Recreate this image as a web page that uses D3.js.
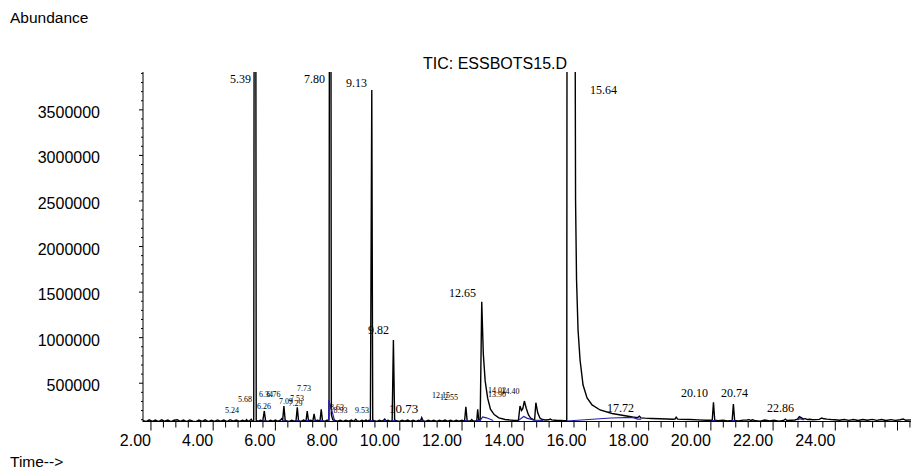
<!DOCTYPE html>
<html><head><meta charset="utf-8">
<script src="https://cdn.jsdelivr.net/npm/d3@7"></script>
<style>html,body{margin:0;padding:0;background:#fff;} svg{display:block;}</style>
</head><body><svg id="c" width="911" height="471"></svg>
<script>
// ---------- data ----------
const chartTitle = "TIC: ESSBOTS15.D";
const yAxisTitle = "Abundance";
const xAxisTitle = "Time-->";
const xTickLabels = ["2.00","4.00","6.00","8.00","10.00","12.00","14.00","16.00","18.00","20.00","22.00","24.00"];
const yTickLabels = ["500000","1000000","1500000","2000000","2500000","3000000","3500000"];

const timeMin = [
1.76,1.86,1.96,2.06,2.16,2.26,2.36,2.46,2.56,2.66,2.76,2.86,2.96,3.06,3.16,3.26,3.36,3.46,3.56,3.66,3.76,3.86,3.96,4.06,4.16,4.26,4.36,4.46,4.56,4.66,4.76,4.86,4.96,
5.05,5.09,5.13,5.20,5.24,5.28,5.32,5.345,5.375,5.40,5.46,5.54,5.61,5.66,5.70,5.78,5.86,5.94,6.02,6.10,6.18,6.22,6.25,6.29,6.33,6.38,6.46,6.54,6.62,6.68,6.72,6.76,6.84,6.92,
7.00,7.04,7.08,7.15,7.22,7.26,7.30,7.37,7.45,7.49,7.53,7.60,7.67,7.74,7.765,7.79,7.815,7.86,7.93,8.01,8.10,8.19,8.28,8.37,8.46,8.54,8.60,8.64,8.72,8.80,8.88,8.93,8.97,
9.03,9.07,9.115,9.145,9.20,9.28,9.36,9.44,9.49,9.53,9.57,9.64,9.71,9.77,9.81,9.85,9.91,10.00,10.09,10.18,10.27,10.36,10.45,10.54,10.62,10.68,10.72,10.76,10.84,10.93,
11.02,11.11,11.20,11.29,11.38,11.47,11.56,11.65,11.74,11.83,11.92,12.01,12.07,12.10,12.14,12.18,12.25,12.31,12.33,12.36,12.43,12.49,12.52,12.555,12.60,12.65,12.70,12.76,12.84,12.93,
13.05,13.20,13.40,13.58,13.72,13.83,13.88,13.93,13.97,14.02,14.08,14.15,14.22,14.30,14.35,14.39,14.45,14.52,14.60,14.70,14.80,14.85,14.90,15.00,15.10,15.20,15.30,15.383,15.40,15.62,
15.666,15.698,15.746,15.811,15.907,16.036,16.197,16.454,16.84,17.258,17.50,17.66,17.72,17.77,17.90,18.10,18.38,18.60,18.80,18.86,18.90,18.95,19.10,19.35,19.60,19.85,
20.00,20.06,20.10,20.14,20.25,20.40,20.55,20.70,20.74,20.78,20.90,21.05,21.18,21.24,21.30,21.36,21.45,21.60,21.75,21.90,22.05,22.20,22.35,22.41,22.46,22.60,22.72,22.80,22.86,22.92,22.98,
23.05,23.12,23.20,23.28,23.40,23.50,23.58,23.65,23.75,23.88,24.00,24.15,24.30,24.45,24.60,24.75,24.90,25.05,25.20,25.35,25.50,25.65,25.80,25.95,26.10,26.20,26.28,26.45
];
const abundance = [
84000,74000,92000,76000,90000,73000,93000,77000,91000,74000,88000,94000,75000,90000,73000,92000,78000,72000,91000,76000,93000,74000,89000,75000,92000,77000,90000,73000,94000,78000,91000,75000,89000,
78000,95000,76000,88000,98000,77000,85000,9000000,9000000,86000,78000,89000,80000,190000,84000,76000,89000,78000,90000,77000,88000,105000,88000,245000,90000,80000,76000,89000,78000,85000,230000,84000,76000,90000,
79000,190000,83000,89000,78000,157000,82000,89000,80000,208000,83000,77000,89000,90000,9000000,9000000,150000,95000,85000,77000,89000,76000,88000,78000,90000,77000,98000,84000,76000,89000,79000,92000,78000,
88000,84000,3712000,90000,84000,76000,89000,78000,88000,101000,80000,89000,77000,84000,969000,88000,84000,76000,89000,78000,90000,77000,88000,76000,89000,80000,116000,84000,76000,89000,
78000,88000,76000,89000,79000,90000,77000,88000,76000,89000,78000,88000,80000,86000,237000,84000,78000,88000,96000,84000,77000,85000,208000,86000,92000,1389000,820000,520000,330000,210000,
150000,115000,96000,90000,86000,87000,245000,195000,215000,299000,220000,150000,112000,97000,95000,281000,170000,112000,96000,91000,93000,101000,92000,89000,86000,87000,84000,83000,9000000,9000000,
2505000,1627000,1079000,749000,475000,332000,256000,201000,162000,138000,124000,117000,132000,114000,111000,108000,104000,102000,100000,101000,121000,100000,98000,96000,92000,89000,
88000,87000,285000,88000,82000,90000,81000,86000,267000,87000,80000,90000,91000,95000,86000,93000,82000,79000,90000,80000,89000,79000,86000,101000,85000,88000,91000,99000,128000,116000,103000,
106000,96000,99000,94000,95000,98000,113000,104000,100000,96000,94000,88000,97000,87000,96000,86000,97000,88000,98000,87000,96000,86000,95000,87000,94000,102000,88000,92000
];

// integration baselines (blue), null = break
const blueTime = [5.61,5.71,null,6.24,6.34,null,6.68,6.77,null,7.00,7.09,null,7.22,7.31,null,7.45,7.54,null,
7.725,7.735,7.92,null,9.06,9.16,null,9.49,9.58,null,9.76,9.87,null,10.68,10.77,null,12.10,12.19,null,
12.48,12.60,12.68,12.80,13.02,null,13.82,14.00,14.10,14.33,14.62,null,15.38,16.80,17.50,17.66,17.78,null,
20.05,20.16,null,20.69,20.79,null,22.80,22.88,23.00];
const blueAbund = [83000,83000,null,85000,85000,null,83000,83000,null,83000,83000,null,82000,82000,null,83000,83000,null,
85000,310000,84000,null,84000,84000,null,84000,84000,null,84000,84000,null,83000,83000,null,84000,84000,null,
84000,86000,125000,115000,86000,null,84000,130000,112000,88000,86000,null,80000,113000,119000,100000,100000,null,
85000,85000,null,85000,85000,null,92000,106000,93000];

const majorPeakLabels = ["5.39","7.80","9.13","15.64","12.65","9.82","10.73","17.72","20.10","20.74","22.86"];
const minorPeakLabels = ["5.24","5.68","6.26","6.34","6.76","7.09","7.53","7.29","7.73","8.63","8.93","9.53","12.15","12.55","14.02","13.90","14.40"];

// ---------- layout (pixel placement of annotations) ----------
const majorLabelPos = [[230,83],[304,83],[346,87],[590,94],[449,297],[368,334],[389,413],[607,412],[681,397],[721,397],[767,412]];
const minorLabelPos = [[225,412.5],[238,402],[257,409],[259,397],[266.5,397],[279,403.5],[290,400.5],[288.5,405.5],[297,390.5],[330,410],[333.5,412.5],[355,412.5],[432,397.5],[440,400],[488,393],[488,396.5],[501.5,394]];

const svg = d3.select("#c");
const L = 143, R = 911, T = 72, B = 422, AXY = 421.5;
const x = d3.scaleLinear().domain([1.76, 26.45]).range([L, R]);
const y = d3.scaleLinear().domain([69000, 3910000]).range([B, T]);

const sans = "Liberation Sans, Arial, Helvetica, sans-serif";
const serif = "Liberation Serif, Times New Roman, serif";

svg.append("defs").append("clipPath").attr("id","pc")
  .append("rect").attr("x", L).attr("y", T).attr("width", R - L).attr("height", B - T);

// trace
const pts = timeMin.map((t, i) => [t, abundance[i]]);
svg.append("path").datum(pts)
  .attr("clip-path","url(#pc)")
  .attr("fill","none").attr("stroke","#000").attr("stroke-width",1.4).attr("stroke-linejoin","miter")
  .attr("d", d3.line().x(d => x(d[0])).y(d => y(d[1])));

const bpts = blueTime.map((t, i) => [t, blueAbund[i]]);
svg.append("path").datum(bpts)
  .attr("clip-path","url(#pc)")
  .attr("fill","none").attr("stroke","#2323a8").attr("stroke-width",1.2)
  .attr("d", d3.line().defined(d => d[0] !== null && d[1] !== null).x(d => x(d[0])).y(d => y(d[1])));

// y axis
const yMajor = yTickLabels.map(Number);
const yMinor = d3.range(100000, 3900001, 100000).filter(v => v % 500000 !== 0);
const gy = svg.append("g").attr("transform", `translate(${L},0)`);
gy.call(d3.axisLeft(y).tickValues(yMinor).tickSize(2).tickSizeOuter(0).tickFormat(""));
gy.append("g").call(d3.axisLeft(y).tickValues(yMajor).tickSize(4).tickSizeOuter(0).tickFormat((d,i) => yTickLabels[i]))
  .call(g => g.select(".domain").remove());
gy.selectAll(".domain").attr("d", `M0,${B}V${T}`).attr("stroke","#000");
gy.selectAll("line").attr("stroke","#000");
gy.selectAll("text").attr("x", -43).attr("dy","0.5em").attr("text-anchor","end")
  .attr("font-family", sans).attr("font-size", 16).attr("fill","#000");

// x axis
const xMajor = xTickLabels.map(Number).concat([26]);
const xMinor = d3.range(0, 62).map(i => 2 + i * 0.4).filter(v => Math.abs(v / 2 - Math.round(v / 2)) > 1e-6 && v <= 26.45);
const gx = svg.append("g").attr("transform", `translate(0,${AXY})`);
gx.call(d3.axisBottom(x).tickValues(xMinor).tickSize(6).tickSizeOuter(0).tickFormat(""));
gx.append("g").call(d3.axisBottom(x).tickValues(xMajor).tickSize(9).tickSizeOuter(0)
    .tickFormat((d,i) => i < xTickLabels.length ? xTickLabels[i] : ""))
  .call(g => g.select(".domain").remove());
gx.selectAll(".domain").attr("d", `M${L},0H${R}`).attr("stroke","#000");
gx.selectAll("line").attr("stroke","#000");
gx.selectAll("text").attr("x", 0).attr("y", 24.5).attr("dy", 0).attr("text-anchor","end")
  .attr("font-family", sans).attr("font-size", 16).attr("fill","#000");

// titles
svg.append("text").attr("x", 10).attr("y", 23).attr("font-family", sans).attr("font-size", 15.5).text(yAxisTitle);
svg.append("text").attr("x", 10).attr("y", 467).attr("font-family", sans).attr("font-size", 15.5).text(xAxisTitle);
svg.append("text").attr("x", 423).attr("y", 69).attr("font-family", sans).attr("font-size", 16).text(chartTitle);

// peak labels
svg.append("g").selectAll("text").data(majorPeakLabels).join("text")
  .attr("x", (d,i) => majorLabelPos[i][0]).attr("y", (d,i) => majorLabelPos[i][1])
  .attr("font-family", serif).attr("font-size", d => d === "10.73" ? 13 : 12).text(d => d);
svg.append("g").selectAll("text").data(minorPeakLabels).join("text")
  .attr("x", (d,i) => minorLabelPos[i][0]).attr("y", (d,i) => minorLabelPos[i][1])
  .attr("font-family", serif).attr("font-size", 8).text(d => d);
</script></body></html>
